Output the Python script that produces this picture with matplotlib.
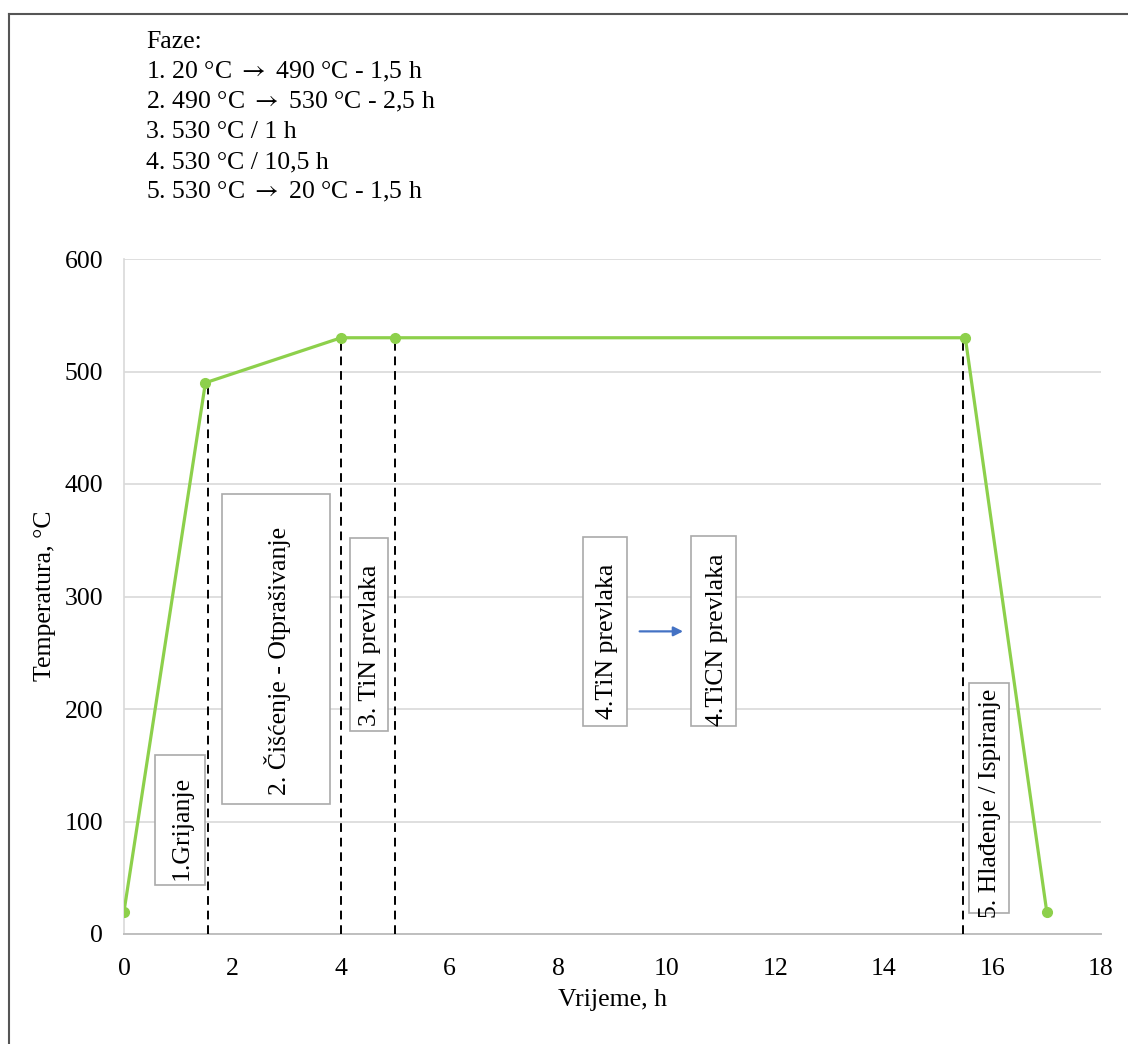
import matplotlib
matplotlib.use("Agg")
import matplotlib.pyplot as plt
from matplotlib.patches import Rectangle
from matplotlib.lines import Line2D

plt.rcParams['font.family'] = ['Liberation Serif', 'DejaVu Serif']
plt.rcParams['mathtext.fontset'] = 'stix'
plt.rcParams['font.size'] = 18.5

# Podaci
vrijeme = [0, 1.5, 4, 5, 15.5, 17]
temperatura = [20, 490, 530, 530, 530, 20]
granice_x = [1.55, 4, 5, 15.45]
granice_y = [490, 530, 530, 530]

faze = ["Faze:",
        "1. 20 °C ${\\rightarrow}$ 490 °C - 1,5 h",
        "2. 490 °C ${\\rightarrow}$ 530 °C - 2,5 h",
        "3. 530 °C / 1 h",
        "4. 530 °C / 10,5 h",
        "5. 530 °C ${\\rightarrow}$ 20 °C - 1,5 h"]

oznake = ["1.Grijanje", "2. Čišćenje - Otprašivanje", "3. TiN prevlaka",
          "4.TiN prevlaka", "4.TiCN prevlaka", "5. Hlađenje / Ispiranje"]
# centar teksta (x, y)
oznake_xy = [(1.07, 94), (2.82, 243), (4.53, 257), (8.90, 260), (10.92, 262), (15.95, 116)]
# okviri (x0, x1, y0, y1)
okviri = [(0.571, 1.492, 43.6, 159.1), (1.805, 3.795, 115.6, 391.1),
          (4.163, 4.863, 180.4, 352.0), (8.456, 9.266, 184.9, 352.9),
          (10.446, 11.275, 184.9, 353.8), (15.56, 16.31, 18.7, 223.1)]

fig = plt.figure(figsize=(11.28, 10.44), dpi=100)
ax = fig.add_axes([124 / 1128, 1 - 934 / 1044, 977 / 1128, 675 / 1044])

zelena = '#8DD04B'
ax.plot(vrijeme, temperatura, color=zelena, lw=2.3, marker='o', ms=7, zorder=4)

for x, y in zip(granice_x, granice_y):
    ax.plot([x, x], [0, y - 4], color='black', lw=1.4, ls=(0, (4.5, 3)), zorder=3)

for (x0, x1, y0, y1) in okviri:
    ax.add_patch(Rectangle((x0, y0), x1 - x0, y1 - y0, fc='white', ec='#AAAAAA',
                           lw=1.2, zorder=5))
for txt, (x, y) in zip(oznake, oznake_xy):
    ax.text(x, y, txt, rotation=90, ha='center', va='center', fontsize=18.5, zorder=6)

ax.annotate('', xy=(10.30, 269), xytext=(9.5, 269),
            arrowprops=dict(arrowstyle='-|>', color='#4472C4', lw=1.6,
                            mutation_scale=14, shrinkA=0, shrinkB=0), zorder=6)

ax.set_xlim(0, 18)
ax.set_ylim(0, 600)
ax.set_xticks(range(0, 19, 2))
ax.set_yticks(range(0, 601, 100))
ax.grid(axis='y', color='#D9D9D9', lw=1.2)
ax.set_axisbelow(True)
for s in ['top', 'right']:
    ax.spines[s].set_visible(False)
ax.spines['left'].set_color('#D9D9D9')
ax.spines['left'].set_linewidth(1.2)
ax.spines['bottom'].set_color('#BFBFBF')
ax.spines['bottom'].set_linewidth(1.4)
ax.tick_params(length=0, labelsize=18.5)
ax.tick_params(axis='x', pad=17)
ax.tick_params(axis='y', pad=15)

fig.text(613 / 1128, 1 - 1000 / 1044, "Vrijeme, h", ha='center', va='center', fontsize=18.5)
fig.text(45 / 1128, 1 - 596 / 1044, "Temperatura, °C", rotation=90,
         ha='center', va='center', fontsize=18.5)

for i, linija in enumerate(faze):
    fig.text(146 / 1128, 1 - (42 + 30 * i) / 1044, linija, ha='left', va='center', fontsize=18.5)

# okvir slike
fig.add_artist(Line2D([8.5 / 1128, 8.5 / 1128], [0, 1 - 13.5 / 1044], color='#555555', lw=1.5))
fig.add_artist(Line2D([8.5 / 1128, 1], [1 - 13.5 / 1044, 1 - 13.5 / 1044], color='#555555', lw=1.5))

fig.savefig('out.png', dpi=100)
